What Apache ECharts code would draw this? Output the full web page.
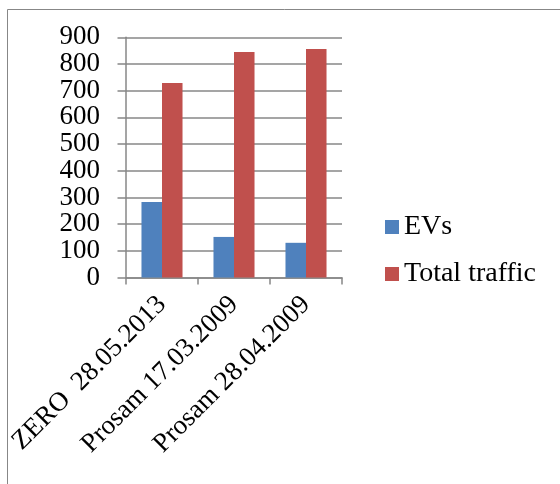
<!DOCTYPE html>
<html>
<head>
<meta charset="utf-8">
<script src="https://cdn.jsdelivr.net/npm/echarts@6/dist/echarts.min.js"></script>
<style>
  html, body { margin: 0; padding: 0; background: #ffffff; }
  #chart { width: 560px; height: 484px; }
</style>
</head>
<body>
<div id="chart"></div>
<script>
// Measurement sessions
const categories = ['ZERO  28.05.2013', 'Prosam 17.03.2009', 'Prosam 28.04.2009'];
// Counted vehicles per session
const evs = [283, 152, 130];
const totalTraffic = [729, 845, 856];
const seriesNames = ['EVs', 'Total traffic'];
const yTicks = { min: 0, max: 900, step: 100 };

const FONT = '"Liberation Serif", "Times New Roman", serif';
const GRID_GRAY = '#878787';

// The tick labels are tall relative to the tick spacing, so they are split over two
// coincident axes (even / odd hundreds) to keep every label visible.
const labelFor = (parity) => (value) =>
  (Math.round(value / yTicks.step) % 2 === parity) ? String(value) : '';

const yLabelStyle = {
  margin: 26,
  showMinLabel: true,
  showMaxLabel: true,
  fontFamily: FONT,
  fontSize: 27,
  color: '#000000'
};

const chart = echarts.init(document.getElementById('chart'), null, { renderer: 'canvas' });

chart.setOption({
  animation: false,
  backgroundColor: '#ffffff',
  textStyle: { fontFamily: FONT, color: '#000000' },
  graphic: [{
    type: 'rect',
    shape: { x: 7.5, y: 9.5, width: 700, height: 700 },
    style: { fill: 'none', stroke: GRID_GRAY, lineWidth: 1 },
    silent: true,
    z: -10
  }],
  grid: { left: 126, right: 218, top: 37.3, bottom: 206.5, containLabel: false },
  legend: {
    orient: 'vertical',
    left: 380,
    top: 208,
    itemWidth: 14,
    itemHeight: 14,
    itemGap: 19,
    icon: 'rect',
    data: seriesNames,
    textStyle: { fontFamily: FONT, fontSize: 28, color: '#000000', lineHeight: 28 }
  },
  xAxis: {
    type: 'category',
    data: categories,
    boundaryGap: true,
    axisLine: { show: true, lineStyle: { color: GRID_GRAY, width: 1.5 } },
    axisTick: { show: true, length: 7, lineStyle: { color: GRID_GRAY, width: 1.5 } },
    axisLabel: {
      interval: 0,
      rotate: 45,
      margin: 23,
      hideOverlap: false,
      fontFamily: FONT,
      fontSize: 27,
      color: '#000000'
    }
  },
  yAxis: [
    {
      type: 'value',
      position: 'left',
      min: yTicks.min,
      max: yTicks.max,
      interval: yTicks.step,
      axisLine: { show: true, lineStyle: { color: GRID_GRAY, width: 1.5 } },
      axisTick: { show: true, length: 8.5, lineStyle: { color: GRID_GRAY, width: 1.5 } },
      splitLine: { show: true, showMinLine: true, showMaxLine: true, lineStyle: { color: GRID_GRAY, width: 1.5 } },
      axisLabel: Object.assign({ formatter: labelFor(0) }, yLabelStyle)
    },
    {
      type: 'value',
      position: 'left',
      offset: 0,
      min: yTicks.min,
      max: yTicks.max,
      interval: yTicks.step,
      axisLine: { show: false },
      axisTick: { show: false },
      splitLine: { show: false },
      axisLabel: Object.assign({ formatter: labelFor(1) }, yLabelStyle)
    }
  ],
  series: [
    {
      name: seriesNames[0],
      type: 'bar',
      yAxisIndex: 0,
      data: evs,
      barGap: '0%',
      barCategoryGap: '43%',
      itemStyle: { color: '#4F81BD' }
    },
    {
      name: seriesNames[1],
      type: 'bar',
      yAxisIndex: 0,
      data: totalTraffic,
      barGap: '0%',
      barCategoryGap: '43%',
      itemStyle: { color: '#C0504D' }
    }
  ]
});
</script>
</body>
</html>
